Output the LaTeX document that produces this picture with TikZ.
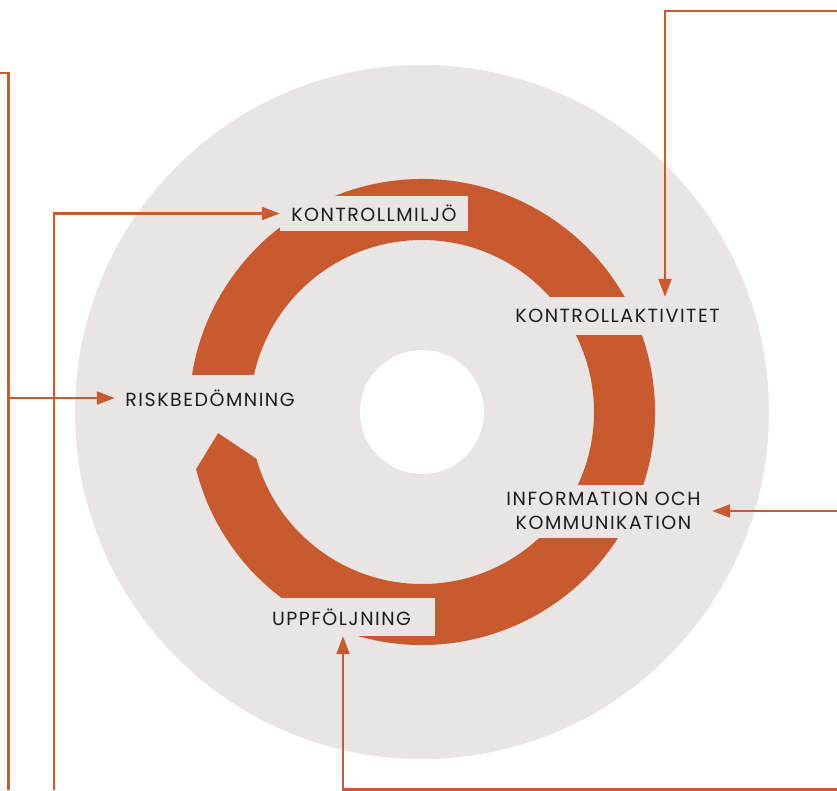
\documentclass[tikz,border=0pt]{standalone}
\usepackage{fontspec}
\setmainfont{Poppins}[LetterSpace=8]
\usetikzlibrary{arrows.meta}
\definecolor{disc}{HTML}{E8E5E4}
\definecolor{rust}{HTML}{C85A30}
\definecolor{ink}{HTML}{1D1D1B}
\pgfdeclarelayer{disclayer}
\pgfdeclarelayer{nodelayer}
\pgfdeclarelayer{edgelayer}
\pgfsetlayers{disclayer,nodelayer,edgelayer,main}
\tikzstyle{stage}=[fill=disc,text=ink,font=\fontsize{19}{24}\selectfont,inner sep=0pt,align=center]
\tikzstyle{wire}=[draw=rust,line width=2.2pt]
\tikzstyle{link}=[-{Triangle[length=18pt,width=13pt]},draw=rust,line width=2.2pt]

\begin{document}
\begin{tikzpicture}[x=1pt,y=-1pt]
	\useasboundingbox (0,0) rectangle (837,790);
	\begin{pgfonlayer}{disclayer}
		\fill [disc] (422,412) circle (347);
		\begin{scope}[shift={(422,412)}]
			\fill [rust] (165.8:233) arc[start angle=165.8, end angle=-178, radius=233]
				-- (-178:172) arc[start angle=-178, end angle=164.2, radius=172]
				-- (174.1:205) -- cycle;
			\fill [white] (0,0) circle (62);
		\end{scope}
	\end{pgfonlayer}
	\begin{pgfonlayer}{nodelayer}
		\node [style=stage, minimum width=188pt, minimum height=35pt] (0) at (374,213.5) {KONTROLLMILJÖ};
		\node [style=stage, minimum width=225pt, minimum height=38pt] (1) at (617.5,316) {KONTROLLAKTIVITET};
		\node [style=stage, minimum width=217pt, minimum height=53pt] (2) at (603.5,511) {INFORMATION OCH\\KOMMUNIKATION};
		\node [style=stage, minimum width=187pt, minimum height=38pt] (3) at (341.5,617) {UPPFÖLJNING};
		\node [style=stage, minimum width=190pt, minimum height=46pt] (4) at (210,398) {RISKBEDÖMNING};
	\end{pgfonlayer}
	\begin{pgfonlayer}{edgelayer}
		\coordinate (5) at (0,73);
		\coordinate (6) at (8.5,73);
		\coordinate (7) at (8.5,790);
		\coordinate (8) at (54,790);
		\coordinate (9) at (837,11);
		\coordinate (10) at (665,11);
		\coordinate (11) at (837,511);
		\coordinate (12) at (837,789.5);
		\coordinate (13) at (343,789.5);
		\draw [style=wire] (5) -- (6) -- (7);
		\draw [style=link] (6 |- 4) -- (4.west);
		\draw [style=link] (8) |- (0.west);
		\draw [style=link] (9) -- (10) -- (10 |- 1.north);
		\draw [style=link] (11) -- (2.east);
		\draw [style=link] (12) -- (13) -- (13 |- 3.south);
	\end{pgfonlayer}
\end{tikzpicture}
\end{document}
